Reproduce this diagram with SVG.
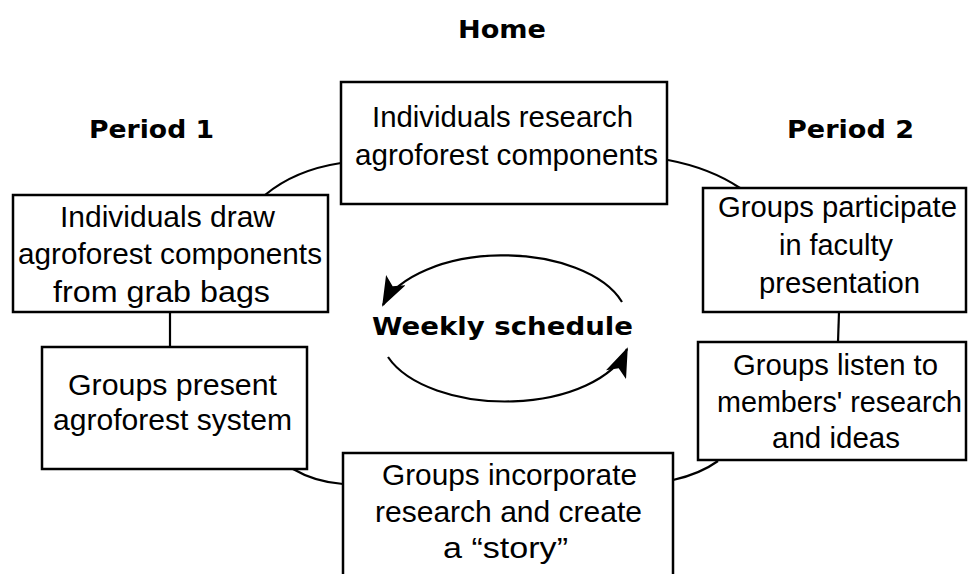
<svg xmlns="http://www.w3.org/2000/svg" width="968" height="574" viewBox="0 0 968 574">
<style>
.box{fill:#fff;stroke:#000;stroke-width:2.5}
.t{font-family:"Liberation Sans",Arial,sans-serif;font-size:29px;fill:#000}
.h{font-family:"DejaVu Sans","Liberation Sans",sans-serif;font-weight:bold;font-size:25px;fill:#000}
.c{fill:none;stroke:#000;stroke-width:2.2}
</style>
<defs>
<marker id="ah" viewBox="0 0 30 22" refX="28" refY="11" markerWidth="30" markerHeight="22" markerUnits="userSpaceOnUse" orient="auto">
<path d="M0,0 L30,11 L0,22 L7,11 z" fill="#000"/>
</marker>
</defs>
<rect width="968" height="574" fill="#fff"/>
<g id="labels">
<text class="h" x="458" y="38" textLength="88" lengthAdjust="spacingAndGlyphs">Home</text>
<text class="h" x="89" y="138" textLength="125" lengthAdjust="spacingAndGlyphs">Period 1</text>
<text class="h" x="787" y="138" textLength="127" lengthAdjust="spacingAndGlyphs">Period 2</text>
</g>
<g id="connectors">
<path class="c" d="M265,195 Q295,170 341,163"/>
<path class="c" d="M668,160 Q710,168 740,188"/>
<path class="c" d="M170,312 L170,347"/>
<path class="c" d="M839,312 L838,342"/>
<path class="c" d="M293,469 Q315,482 343,484"/>
<path class="c" d="M673,480 Q700,474 718,461"/>
<path class="c" d="M622,302 A125,68 0 0 0 383,305" marker-end="url(#ah)"/>
<path class="c" d="M388,357 A125,68 0 0 0 627,349" marker-end="url(#ah)"/>
</g>
<g id="center">
<text class="h" x="372" y="335" textLength="261" lengthAdjust="spacingAndGlyphs">Weekly schedule</text>
</g>
<g id="n-top">
<rect class="box" x="341" y="82" width="326" height="122"/>
<text class="t" x="372" y="127" textLength="261" lengthAdjust="spacingAndGlyphs">Individuals research</text>
<text class="t" x="355" y="165" textLength="303" lengthAdjust="spacingAndGlyphs">agroforest components</text>
</g>
<g id="n-left-top">
<rect class="box" x="13" y="195" width="315" height="117"/>
<text class="t" x="60" y="227" textLength="215" lengthAdjust="spacingAndGlyphs">Individuals draw</text>
<text class="t" x="18" y="264" textLength="304" lengthAdjust="spacingAndGlyphs">agroforest components</text>
<text class="t" x="53" y="302" textLength="217" lengthAdjust="spacingAndGlyphs">from grab bags</text>
</g>
<g id="n-right-top">
<rect class="box" x="703" y="188" width="263" height="124"/>
<text class="t" x="718" y="217" textLength="239" lengthAdjust="spacingAndGlyphs">Groups participate</text>
<text class="t" x="779" y="255" textLength="114" lengthAdjust="spacingAndGlyphs">in faculty</text>
<text class="t" x="759" y="293" textLength="161" lengthAdjust="spacingAndGlyphs">presentation</text>
</g>
<g id="n-left-low">
<rect class="box" x="42" y="347" width="265" height="122"/>
<text class="t" x="68" y="395" textLength="209" lengthAdjust="spacingAndGlyphs">Groups present</text>
<text class="t" x="53" y="430" textLength="239" lengthAdjust="spacingAndGlyphs">agroforest system</text>
</g>
<g id="n-right-low">
<rect class="box" x="698" y="342" width="268" height="118"/>
<text class="t" x="733" y="375" textLength="205" lengthAdjust="spacingAndGlyphs">Groups listen to</text>
<text class="t" x="717" y="412" textLength="245" lengthAdjust="spacingAndGlyphs">members' research</text>
<text class="t" x="772" y="448" textLength="128" lengthAdjust="spacingAndGlyphs">and ideas</text>
</g>
<g id="n-bottom">
<rect class="box" x="343" y="453" width="330" height="130"/>
<text class="t" x="382" y="485" textLength="255" lengthAdjust="spacingAndGlyphs">Groups incorporate</text>
<text class="t" x="375" y="522" textLength="267" lengthAdjust="spacingAndGlyphs">research and create</text>
<text class="t" x="443" y="558" textLength="125" lengthAdjust="spacingAndGlyphs">a “story”</text>
</g>
</svg>
